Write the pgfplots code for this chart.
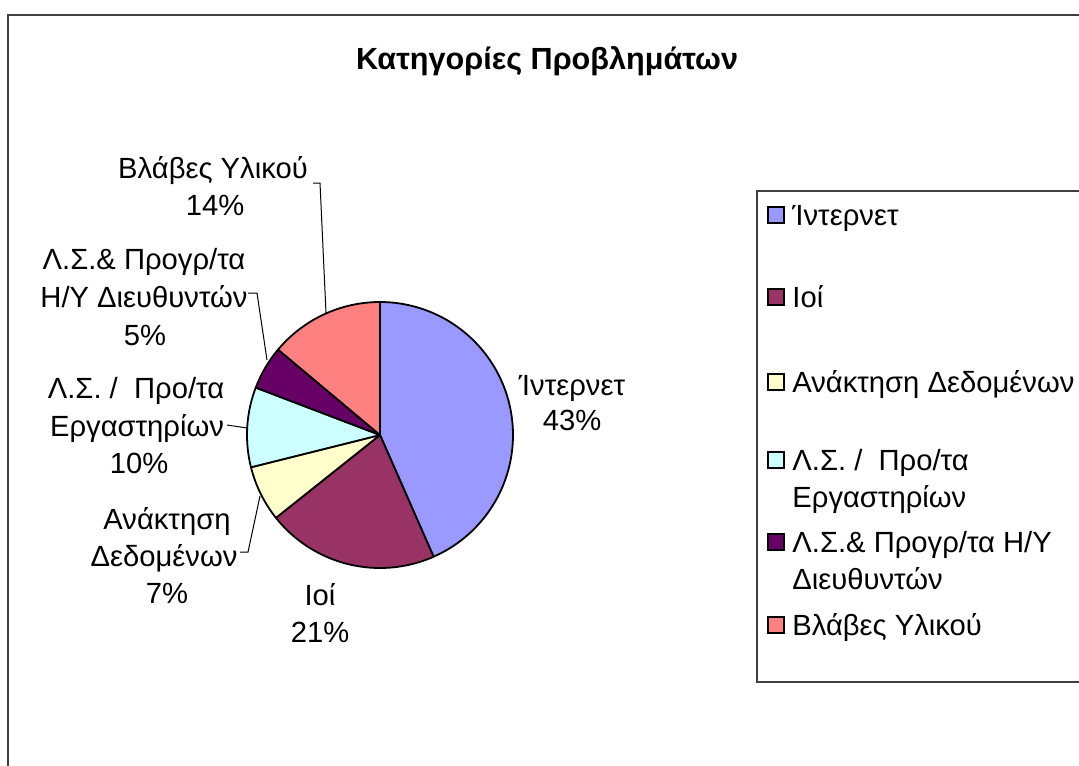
\documentclass[border=0pt]{standalone}
\usepackage{pgfplots}
\usepackage{pgfplotstable}
\pgfplotsset{compat=1.18}
\usepackage{fontspec}
\setmainfont{Liberation Sans}
\definecolor{c0}{RGB}{153,153,255}
\definecolor{c1}{RGB}{153,51,102}
\definecolor{c2}{RGB}{255,255,204}
\definecolor{c3}{RGB}{204,255,255}
\definecolor{c4}{RGB}{102,0,102}
\definecolor{c5}{RGB}{255,128,128}
\definecolor{framegray}{RGB}{64,64,64}
\pgfplotstableread{
category value
Internet 43.4
Ioi 20.9
Anaktisi 6.8
LS 9.7
LSdir 5.3
Vlaves 13.9
}\piedata
\begin{document}
\begin{tikzpicture}[x=0.5pt,y=-0.5pt]
\useasboundingbox (0,0) rectangle (1079,765);
\clip (0,0) rectangle (1079,765);
\fill[white] (0,0) rectangle (1079,765);
\draw[framegray, line width=1pt] (8,15) rectangle (1300,1000);
\coordinate (piec) at (380,435);
\node[font=\fontsize{15.3}{18}\selectfont\bfseries, anchor=base] at (547,69) {Κατηγορίες Προβλημάτων};
\begin{axis}[
  at={(piec)}, anchor=center,
  x=66.5pt, y=66.5pt,
  xmin=-1, xmax=1, ymin=-1, ymax=1,
  hide axis, clip=false,
]
\def\startang{90}
\pgfplotsforeachungrouped \i in {0,...,5}{%
  \pgfplotstablegetelem{\i}{value}\of\piedata
  \pgfmathsetmacro\endang{\startang-3.6*\pgfplotsretval}%
  \edef\doplot{\noexpand\addplot[fill=c\i, draw=black, line width=0.9pt, line join=round, samples=80, domain=\endang:\startang, variable=\noexpand\t] ({cos(\noexpand\t)},{sin(\noexpand\t)}) -- (axis cs:0,0) -- cycle;}%
  \doplot
  \global\let\startang\endang
}
\end{axis}
% leader lines
\draw[black, line width=0.5pt] (313,183) -- (320,183) -- (326,313);
\draw[black, line width=0.5pt] (248,293) -- (257,293) -- (267,360);
\draw[black, line width=0.5pt] (227,425) -- (247,428);
\draw[black, line width=0.5pt] (240,552) -- (248,552) -- (260,496);
% data labels
\begin{scope}[every node/.style={font=\fontsize{14.6}{17}\selectfont, anchor=base, inner sep=0pt}]
\node at (213,178) {Βλάβες Υλικού};
\node at (215,215) {14\%};
\node at (144,269) {Λ.Σ.\& Προγρ/τα};
\node at (144,307) {Η/Υ Διευθυντών};
\node at (145,345) {5\%};
\node at (136,398) {Λ.Σ. /\ \ Προ/τα};
\node at (137,436) {Εργαστηρίων};
\node at (139,473) {10\%};
\node at (167,529) {Ανάκτηση};
\node at (164,566) {Δεδομένων};
\node at (167,603) {7\%};
\node at (320,605) {Ιοί};
\node at (320,642) {21\%};
\node at (572,395) {Ίντερνετ};
\node at (572,430) {43\%};
\end{scope}
% legend
\draw[framegray, line width=0.8pt, fill=white] (757,191) rectangle (1300,682);
\begin{scope}[every node/.style={font=\fontsize{14.6}{17}\selectfont, anchor=base west, inner sep=0pt}]
\foreach \c/\yb/\txt in {c0/225/{Ίντερνετ}, c1/307/{Ιοί}, c2/392/{Ανάκτηση Δεδομένων}, c3/470/{Λ.Σ. /\ \ Προ/τα}, c4/552/{Λ.Σ.\& Προγρ/τα Η/Υ}, c5/635/{Βλάβες Υλικού}}{
  \draw[black, line width=0.7pt, fill=\c] (768,\yb-18) rectangle (784,\yb-2);
  \node at (792,\yb) {\txt};
}
\node at (792,507) {Εργαστηρίων};
\node at (792,589) {Διευθυντών};
\end{scope}
\end{tikzpicture}
\end{document}
